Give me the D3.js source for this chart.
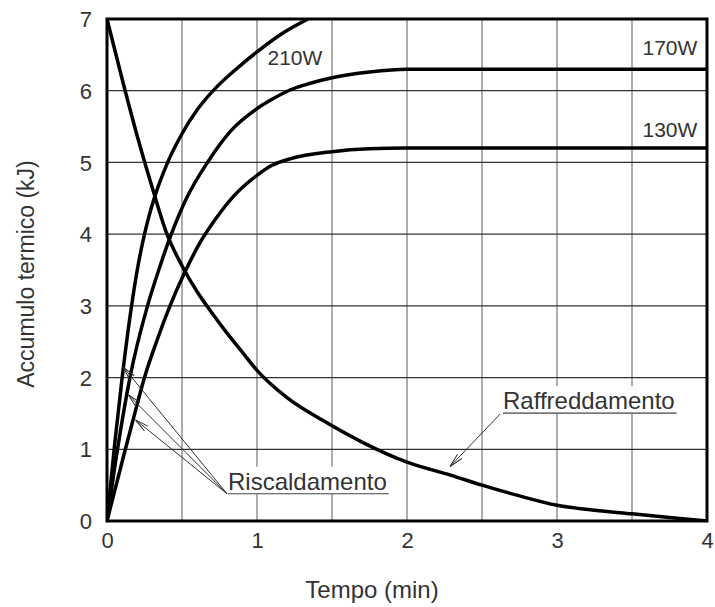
<!DOCTYPE html>
<html>
<head>
<meta charset="utf-8">
<script src="https://cdn.jsdelivr.net/npm/d3@7"></script>
<style>
  body { margin: 0; background: #fff; }
  text { font-family: "Liberation Sans", Arial, sans-serif; fill: #333; }
</style>
</head>
<body>
<script>
// values, [time (min), heat (kJ)]
var heat210 = [[0, 0], [0.05, 1.05], [0.1, 1.98], [0.15, 2.8], [0.2, 3.48], [0.25, 4.0], [0.3, 4.4],
    [0.4, 4.98], [0.5, 5.4], [0.6, 5.73], [0.73, 6.05], [0.86, 6.3], [1.0, 6.54], [1.17, 6.8], [1.34, 7.0]];
var heat170 = [[0, 0], [0.07, 1.0], [0.153, 2], [0.27, 3], [0.345, 3.5], [0.42, 3.95], [0.53, 4.5],
    [0.67, 5.0], [0.83, 5.45], [1.0, 5.75], [1.1, 5.88], [1.22, 6.01], [1.35, 6.1], [1.5, 6.18],
    [1.75, 6.26], [2.0, 6.3], [4.0, 6.3]];
var heat130 = [[0, 0], [0.1, 0.82], [0.2, 1.62], [0.25, 2.0], [0.33, 2.5], [0.42, 3.0], [0.51, 3.43],
    [0.62, 3.88], [0.72, 4.2], [0.84, 4.52], [1.0, 4.82], [1.1, 4.96], [1.22, 5.05], [1.5, 5.15],
    [1.75, 5.19], [2.0, 5.2], [4.0, 5.2]];
var cooling = [[0, 7], [0.1, 6.17], [0.2, 5.38], [0.3, 4.66], [0.4, 4.0], [0.5, 3.56], [0.6, 3.2],
    [0.7, 2.9], [0.8, 2.62], [0.9, 2.36], [1.0, 2.1], [1.2, 1.72], [1.44, 1.4], [1.7, 1.1], [2.0, 0.82],
    [2.29, 0.64], [2.5, 0.5], [2.75, 0.35], [3.0, 0.22], [3.25, 0.15], [3.5, 0.1], [3.75, 0.05], [4.0, 0]];

var xTicks = [0, 1, 2, 3, 4];
var yTicks = [0, 1, 2, 3, 4, 5, 6, 7];
var xGrid = [0.5, 1, 1.5, 2, 2.5, 3, 3.5];
var yGrid = [1, 2, 3, 4, 5, 6];

var powerLabels = ['210W', '170W', '130W'];
var powerLabelAt = [[1.07, 6.36], [3.57, 6.5], [3.57, 5.36]];

var heatLabel = 'Riscaldamento';
var heatFrom = [0.8, 0.38];
var heatTips = [[0.107, 2.15], [0.142, 1.76], [0.19, 1.41]];
var coolLabel = 'Raffreddamento';
var coolFrom = [2.62, 1.49];
var coolTip = [2.287, 0.76];

var w = 715, h = 607;
var x = d3.scaleLinear().domain([0, 4]).range([107, 707]);
var y = d3.scaleLinear().domain([0, 7]).range([521, 19]);

var svg = d3.select('body').append('svg')
    .attr('width', w)
    .attr('height', h);

var defs = svg.append('defs');
defs.append('clipPath').attr('id', 'plot')
    .append('rect')
    .attr('x', x(0)).attr('y', y(7))
    .attr('width', x(4) - x(0)).attr('height', y(0) - y(7));

// open arrow head
defs.append('marker')
    .attr('id', 'arrow')
    .attr('viewBox', '0 0 14 8')
    .attr('refX', 14).attr('refY', 4)
    .attr('markerWidth', 14).attr('markerHeight', 8)
    .attr('markerUnits', 'userSpaceOnUse')
    .attr('orient', 'auto')
    .append('path')
    .attr('d', 'M0,1 L14,4 L0,7')
    .attr('fill', 'none')
    .attr('stroke', '#333')
    .attr('stroke-width', 1);

// grid
svg.append('g').selectAll('line').data(xGrid).enter().append('line')
    .attr('x1', x).attr('x2', x)
    .attr('y1', y(0)).attr('y2', y(7))
    .attr('stroke', '#777').attr('stroke-width', 1.2);
svg.append('g').selectAll('line').data(yGrid).enter().append('line')
    .attr('x1', x(0)).attr('x2', x(4))
    .attr('y1', y).attr('y2', y)
    .attr('stroke', '#333').attr('stroke-width', 1.2);

// axes, labels only
svg.append('g')
    .attr('transform', 'translate(0,' + (y(0) + 7) + ')')
    .call(d3.axisBottom(x).tickValues(xTicks).tickSize(0).tickPadding(0).tickFormat(d3.format('d')))
    .call(function(g) {
        g.select('.domain').remove();
        g.selectAll('text').attr('font-size', 22).attr('fill', '#333').attr('dy', '0.9em');
    });
svg.append('g')
    .attr('transform', 'translate(' + (x(0) - 15) + ',0)')
    .call(d3.axisLeft(y).tickValues(yTicks).tickSize(0).tickPadding(0).tickFormat(d3.format('d')))
    .call(function(g) {
        g.select('.domain').remove();
        g.selectAll('text').attr('font-size', 22).attr('fill', '#333').attr('dy', '0.35em');
    });

svg.append('text')
    .attr('x', 372)
    .attr('y', 598)
    .attr('text-anchor', 'middle')
    .attr('font-size', 24)
    .text('Tempo (min)');
svg.append('text')
    .attr('transform', 'translate(34,' + ((y(0) + y(7)) / 2 + 4) + ') rotate(-90)')
    .attr('text-anchor', 'middle')
    .attr('font-size', 23)
    .text('Accumulo termico (kJ)');

// annotation labels, a white box hides the grid behind them
function addLabel(label, ax, ay, dx, base) {
    var t = svg.append('text')
        .attr('x', ax + dx)
        .attr('y', ay + base)
        .attr('font-size', 24)
        .text(label);
    var len = t.node().getComputedTextLength();
    svg.insert('rect', function() { return t.node(); })
        .attr('x', ax + dx - 2)
        .attr('y', ay + base - 23)
        .attr('width', len + 6)
        .attr('height', 27)
        .attr('fill', '#fff');
    svg.append('line')
        .attr('x1', ax + dx).attr('x2', ax + dx + len + 2)
        .attr('y1', ay + base + 4).attr('y2', ay + base + 4)
        .attr('stroke', '#444').attr('stroke-width', 1.2);
}
addLabel(heatLabel, x(heatFrom[0]), y(heatFrom[1]), 1, -4);
addLabel(coolLabel, x(coolFrom[0]), y(coolFrom[1]), 3, -5);

// curves
var line = d3.line()
    .x(function(d) { return x(d[0]); })
    .y(function(d) { return y(d[1]); })
    .curve(d3.curveMonotoneX);

svg.append('g')
    .attr('clip-path', 'url(#plot)')
    .selectAll('path')
    .data([heat210, heat170, heat130, cooling])
    .enter().append('path')
    .attr('d', line)
    .attr('fill', 'none')
    .attr('stroke', '#000')
    .attr('stroke-width', 3.5)
    .attr('stroke-linejoin', 'round');

// arrows
svg.append('g').selectAll('line')
    .data(heatTips.map(function(t) { return [heatFrom, t]; }).concat([[coolFrom, coolTip]]))
    .enter().append('line')
    .attr('x1', function(d) { return x(d[0][0]); })
    .attr('y1', function(d) { return y(d[0][1]); })
    .attr('x2', function(d) { return x(d[1][0]); })
    .attr('y2', function(d) { return y(d[1][1]); })
    .attr('stroke', '#333')
    .attr('stroke-width', 1)
    .attr('marker-end', 'url(#arrow)');

// power labels
svg.append('g').selectAll('text')
    .data(powerLabels)
    .enter().append('text')
    .attr('x', function(d, i) { return x(powerLabelAt[i][0]); })
    .attr('y', function(d, i) { return y(powerLabelAt[i][1]); })
    .attr('font-size', 21)
    .text(function(d) { return d; });

// frame
svg.append('rect')
    .attr('x', x(0)).attr('y', y(7))
    .attr('width', x(4) - x(0)).attr('height', y(0) - y(7))
    .attr('fill', 'none')
    .attr('stroke', '#000')
    .attr('stroke-width', 3);
</script>
</body>
</html>
